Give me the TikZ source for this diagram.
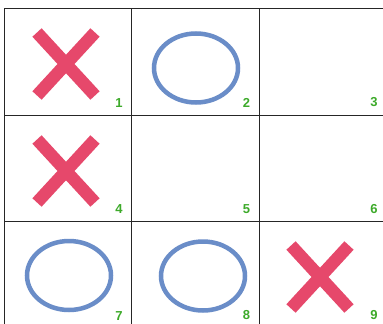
\documentclass[tikz,border=0pt]{standalone}
\usepackage{fontspec}
\setmainfont{Liberation Sans}
\definecolor{xred}{HTML}{E6486B}
\definecolor{oblue}{HTML}{6A8DC8}
\definecolor{numgreen}{HTML}{3DAA2A}
\begin{document}
\begin{tikzpicture}[x=1pt,y=-1pt,
  cell/.style={draw=black!85, line width=1.2pt, minimum width=127.5pt, minimum height=106.5pt, inner sep=0pt, outer sep=0pt},
  num/.style={anchor=south east, inner sep=0pt, text=numgreen, font=\fontsize{13}{13}\selectfont\bfseries},
  cross/.style={draw=xred, line width=12.5pt},
  ring/.style={draw=oblue, line width=4.5pt}]
\useasboundingbox (0,0) rectangle (383,324);
\fill[white] (0,0) rectangle (383,324);
\clip (0,0) rectangle (383,324);
% cells
\node[cell] (c1) at (68,62) {};
\node[cell] (c2) at (195.5,62) {};
\node[cell] (c3) at (323,62) {};
\node[cell] (c4) at (68,168.5) {};
\node[cell] (c5) at (195.5,168.5) {};
\node[cell] (c6) at (323,168.5) {};
\node[cell] (c7) at (68,275) {};
\node[cell] (c8) at (195.5,275) {};
\node[cell] (c9) at (323,275) {};
% numbers
\foreach \i in {1,...,9}{
  \node[num] (n\i) at ([xshift=-9pt,yshift=8pt]c\i.south east) {\i};
}
% crosses
\foreach \c/\x/\y in {x1/66/64, x4/66/171, x9/320/277}{
  \coordinate (\c) at (\x,\y);
  \draw[cross] ([shift={(-29,-31.5)}]\c) -- ([shift={(29,31.5)}]\c);
  \draw[cross] ([shift={(29,-31.5)}]\c) -- ([shift={(-29,31.5)}]\c);
}
% rings
\foreach \c/\x/\y in {o2/196/68, o7/69/275.5, o8/203/276}{
  \coordinate (\c) at (\x,\y);
  \draw[ring] (\c) ellipse [x radius=42, y radius=34.5];
}
\end{tikzpicture}
\end{document}
